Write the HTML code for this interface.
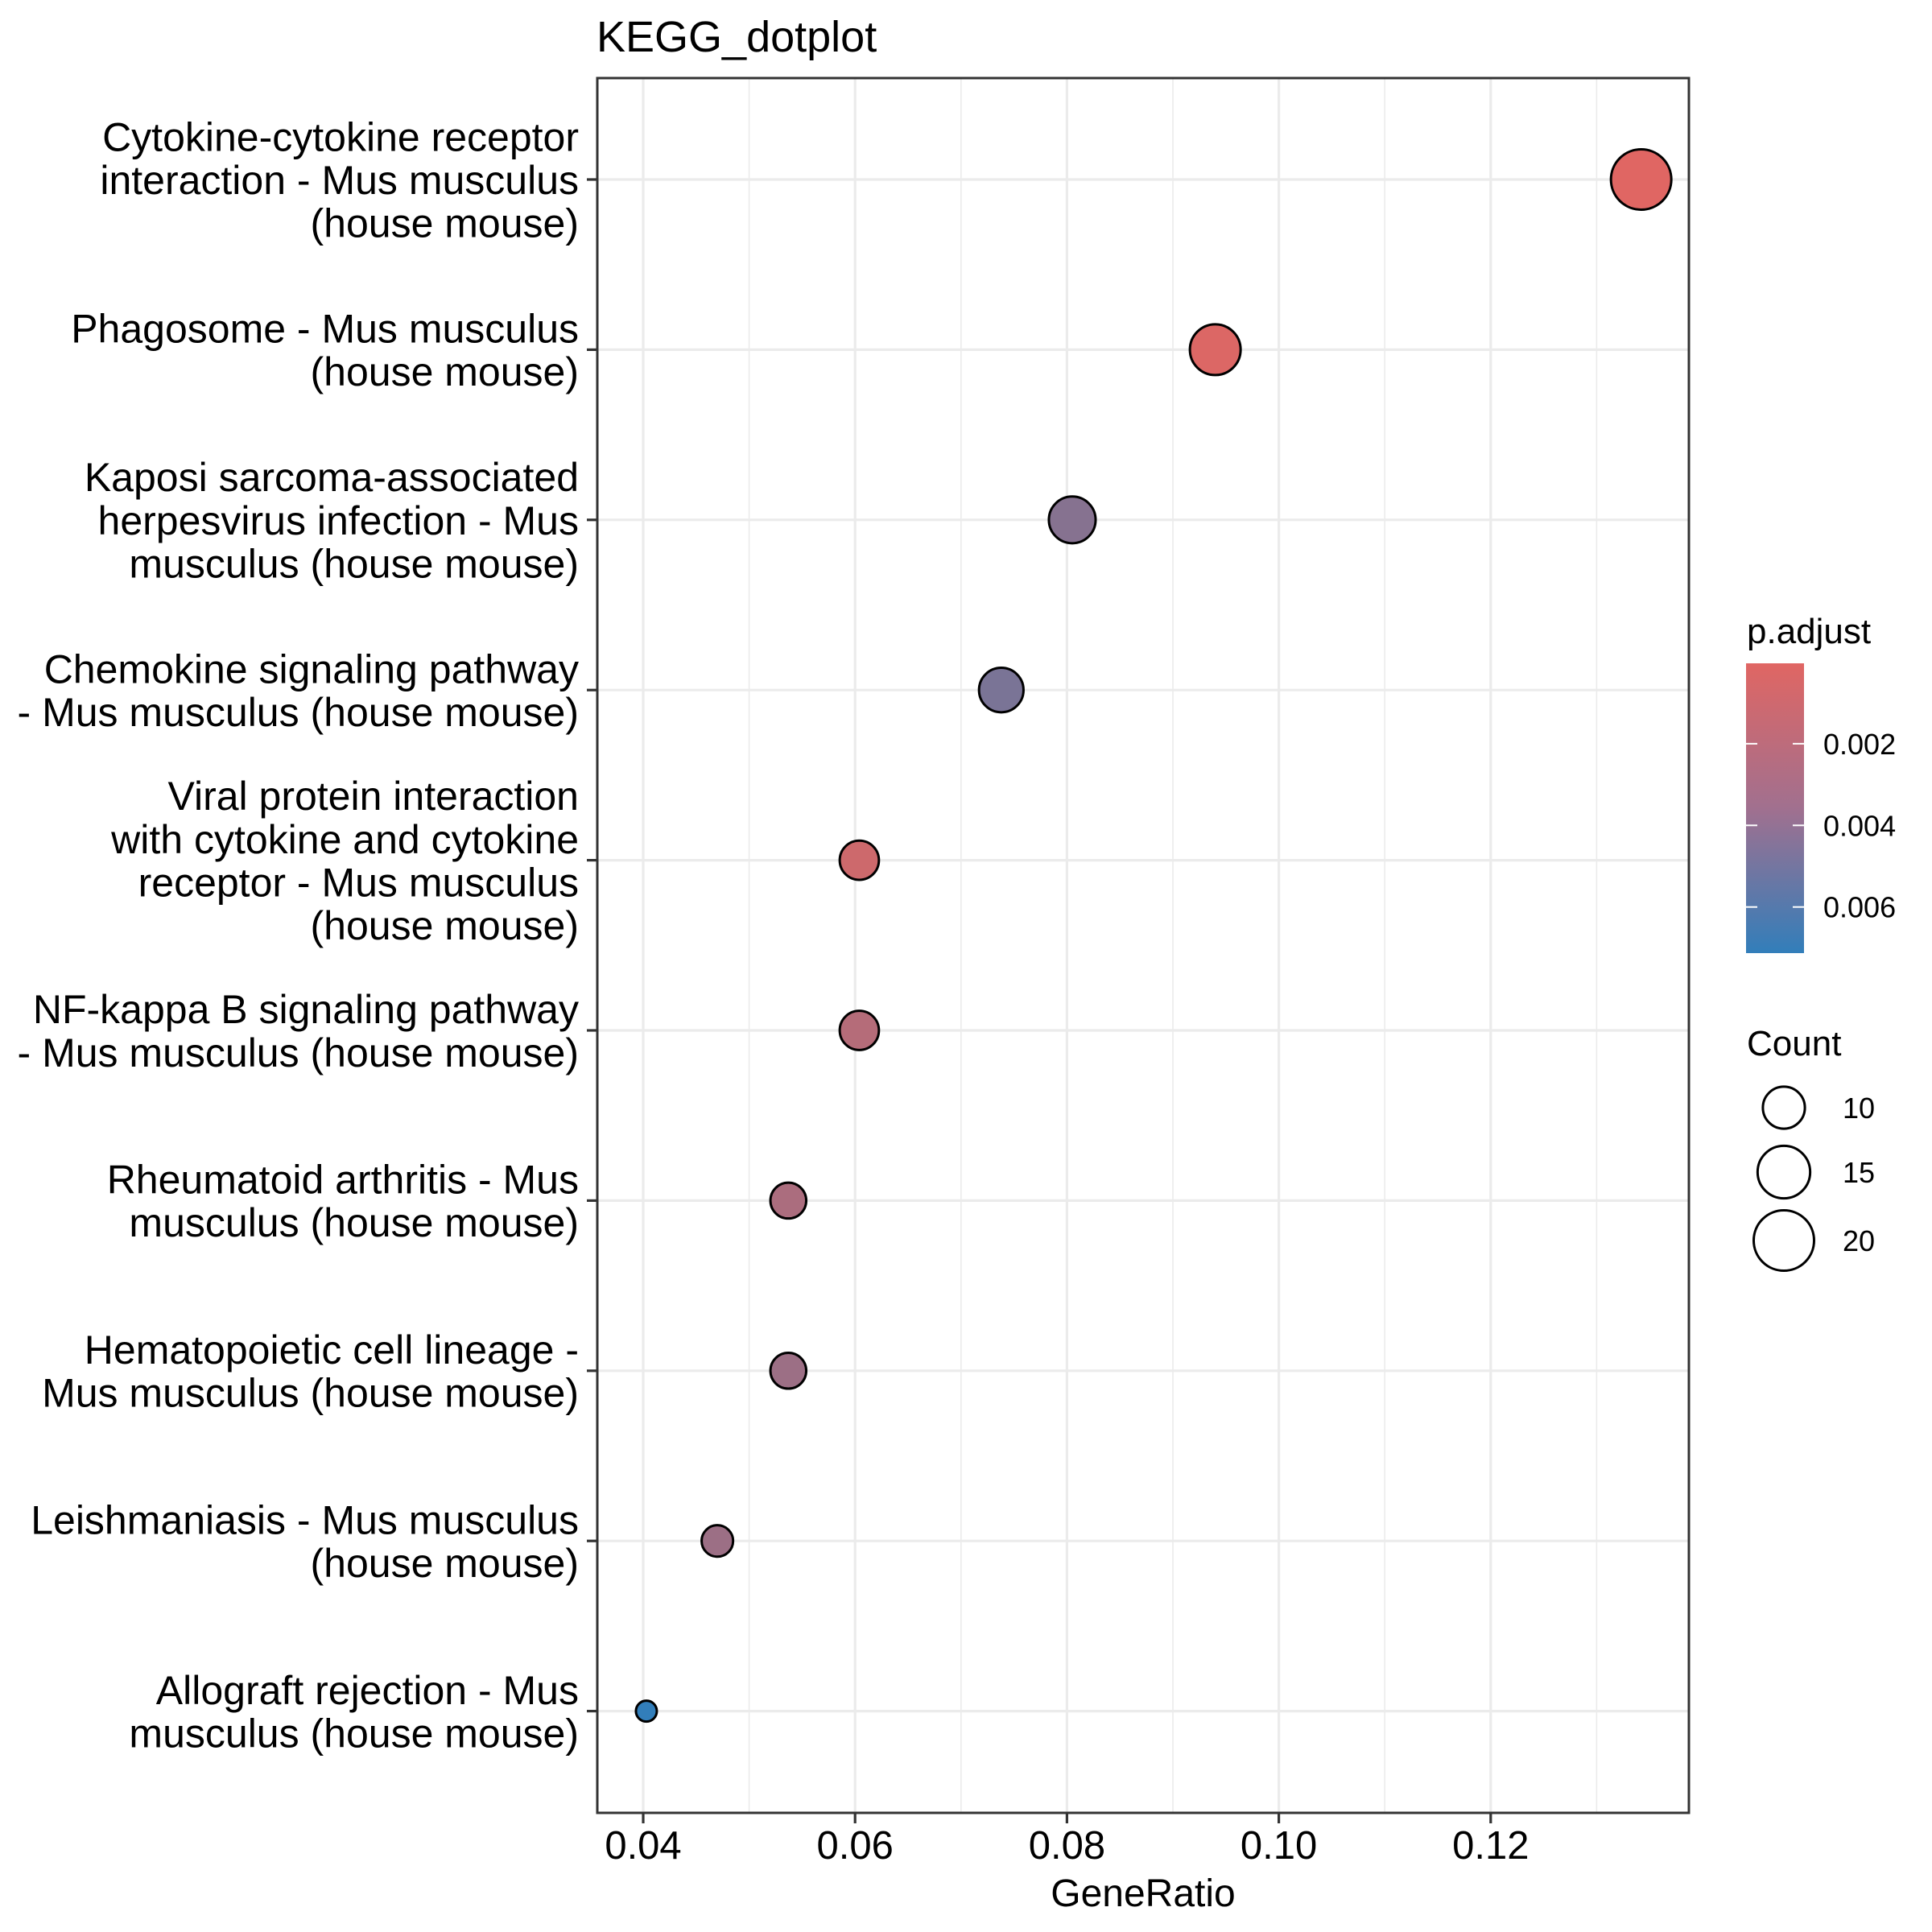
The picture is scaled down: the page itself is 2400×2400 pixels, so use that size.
<!DOCTYPE html>
<html><head><meta charset="utf-8"><style>
html,body{margin:0;padding:0;background:#fff}
svg{display:block}
text{font-family:"Liberation Sans",Arial,sans-serif;fill:#000}
</style></head><body>
<svg id="chart" width="2400" height="2400" viewBox="0 0 2400 2400" xmlns="http://www.w3.org/2000/svg">
<rect width="2400" height="2400" fill="#fff"/>
<g id="grid"></g>
<g id="pts"></g>
<rect x="742" y="97" width="1356" height="2155" fill="none" stroke="#333" stroke-width="3"/>
<g id="axes"></g>
<text x="741" y="64" font-size="54">KEGG_dotplot</text>
<text x="1420" y="2368" font-size="48" text-anchor="middle">GeneRatio</text>
<g id="legend">
<defs><linearGradient id="cg" x1="0" y1="0" x2="0" y2="1"><stop offset="0" stop-color="#e06663"/><stop offset="0.5" stop-color="#a1708f"/><stop offset="1" stop-color="#327eba"/></linearGradient></defs>
<text x="2170" y="799" font-size="44">p.adjust</text>
<rect x="2169" y="824" width="72" height="360" fill="url(#cg)"/>
<text x="2170" y="1311" font-size="44">Count</text>
</g>
</svg>
<script>
const NS="http://www.w3.org/2000/svg";
const categories=["Cytokine-cytokine receptor|interaction - Mus musculus|(house mouse)","Phagosome - Mus musculus|(house mouse)","Kaposi sarcoma-associated|herpesvirus infection - Mus|musculus (house mouse)","Chemokine signaling pathway|- Mus musculus (house mouse)","Viral protein interaction|with cytokine and cytokine|receptor - Mus musculus|(house mouse)","NF-kappa B signaling pathway|- Mus musculus (house mouse)","Rheumatoid arthritis - Mus|musculus (house mouse)","Hematopoietic cell lineage -|Mus musculus (house mouse)","Leishmaniasis - Mus musculus|(house mouse)","Allograft rejection - Mus|musculus (house mouse)"];
const geneRatio=[0.1342,0.0940,0.0805,0.0738,0.0604,0.0604,0.0537,0.0537,0.0470,0.0403];
const counts=[20,14,12,11,9,9,8,8,7,6];
const padj=[0.00003,0.0002,0.0037,0.0042,0.0008,0.0018,0.0022,0.0028,0.0028,0.00713];
const xTicks=[0.04,0.06,0.08,0.10,0.12];
const xTickLabels=["0.04","0.06","0.08","0.10","0.12"];
const xMinor=[0.05,0.07,0.09,0.11,0.13];
const pTicks=[0.002,0.004,0.006];
const pTickLabels=["0.002","0.004","0.006"];
const sizeBreaks=[10,15,20];

const PL=742,PR=2098,PT=97,PB=2252;
const X0=0.04,XPX0=799,XPER=131.6/0.01;
function xs(v){return XPX0+(v-X0)*XPER;}
function ys(i){return 223+i*211.4;}
const cMin=6,cMax=20;
function rs(c){return 13+24.5*Math.sqrt(Math.max(0,(c-cMin)/(cMax-cMin)));}
const pTop=0.00003,pBot=0.00713,CBT=824,CBB=1184;
function pys(p){return CBT+(p-pTop)/(pBot-pTop)*(CBB-CBT);}
function col(p){const t=Math.min(1,Math.max(0,(p-pTop)/(pBot-pTop)));
 const a=[0xe0,0x66,0x63],b=[0x32,0x7e,0xba];
 return "rgb("+a.map((v,k)=>Math.round(v+(b[k]-v)*t)).join(",")+")";}
function mk(tag,attrs,parent){const e=document.createElementNS(NS,tag);for(const k in attrs)e.setAttribute(k,attrs[k]);parent.appendChild(e);return e;}

const grid=document.getElementById('grid'),pts=document.getElementById('pts'),axes=document.getElementById('axes'),legend=document.getElementById('legend');
xMinor.forEach(v=>{const x=xs(v);if(x>PL&&x<PR){const l=mk('line',{x1:x,x2:x,y1:PT,y2:PB,stroke:'#ebebeb','stroke-width':1.6},grid);

}});
xTicks.forEach((v,i)=>{const x=xs(v);
 const l=mk('line',{x1:x,x2:x,y1:PT,y2:PB,stroke:'#ebebeb','stroke-width':3.2},grid);
 
 
 const t=mk('line',{x1:x,x2:x,y1:PB,y2:PB+13,stroke:'#333','stroke-width':3.2},axes);
 
 
 const tx=mk('text',{x:x,y:2309,'font-size':49,'text-anchor':'middle',fill:'#000'},axes);
 tx.textContent=xTickLabels[i];
 
 });
categories.forEach((c,i)=>{const y=ys(i);
 const l=mk('line',{x1:PL,x2:PR,y1:y,y2:y,stroke:'#ebebeb','stroke-width':3.2},grid);
 
 
 const t=mk('line',{x1:PL-13,x2:PL,y1:y,y2:y,stroke:'#333','stroke-width':3.2},axes);
 
 
 const lines=c.split('|');const n=lines.length;
 const tx=mk('text',{'font-size':50,'text-anchor':'end'},axes);
 
 
 lines.forEach((s,k)=>{const ts=mk('tspan',{x:719,y:(y+18+(k-(n-1)/2)*53.6).toFixed(1)},tx);ts.textContent=s;});
});
categories.forEach((c,i)=>{
 const p=mk('circle',{cx:xs(geneRatio[i]),cy:ys(i),r:rs(counts[i]),fill:col(padj[i]),stroke:'#000','stroke-width':3},pts);
 
 });
pTicks.forEach((v,i)=>{const y=pys(v);
 const a=mk('line',{x1:2169,x2:2183,y1:y,y2:y,stroke:'#fff','stroke-width':2},legend);
 
 
 const b=mk('line',{x1:2227,x2:2241,y1:y,y2:y,stroke:'#fff','stroke-width':2},legend);
 
 
 const t=mk('text',{x:2265,y:y+13,'font-size':36},legend);t.textContent=pTickLabels[i];
 
 });
const sizeY=[1376,1456,1541];
sizeBreaks.forEach((c,i)=>{
 const e=mk('circle',{cx:2216,cy:sizeY[i],r:rs(c),fill:'none',stroke:'#000','stroke-width':3},legend);
 
 
 const t=mk('text',{x:2289,y:sizeY[i]+13,'font-size':36},legend);t.textContent=String(c);
 
 });
</script>
</body></html>
